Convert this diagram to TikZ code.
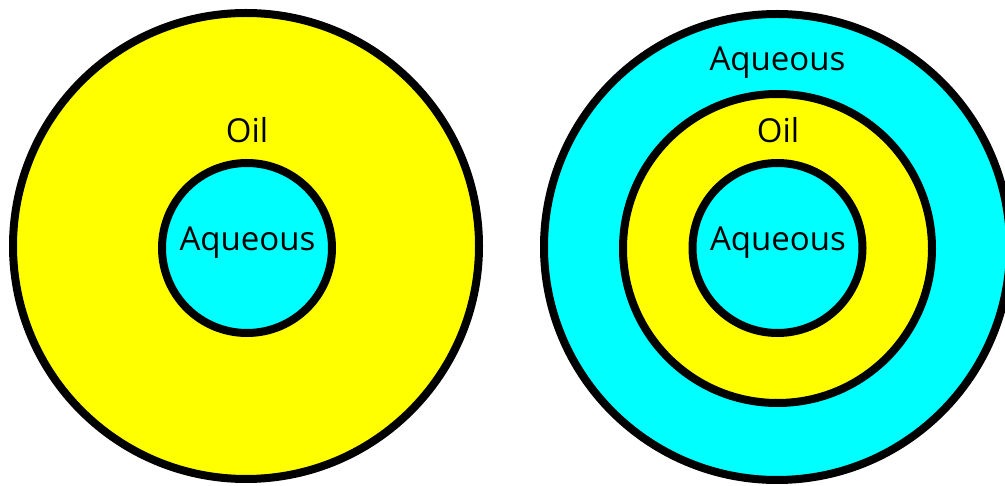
\documentclass[tikz,border=0pt]{standalone}
\usepackage{fontspec}
\setmainfont{Open Sans}
\usepackage{xcolor}
\usepackage{tikz}
\usetikzlibrary{positioning}
\definecolor{oilyellow}{RGB}{255,255,0}
\definecolor{aqcyan}{RGB}{0,255,255}
\tikzset{
  drop/.style={circle, draw=black, line width=8pt, inner sep=0pt},
  oil/.style={drop, fill=oilyellow},
  aq/.style={drop, fill=aqcyan},
  lbl/.style={anchor=base, inner sep=0pt, font=\fontsize{33}{37}\selectfont}
}
\begin{document}
\begin{tikzpicture}[x=1pt, y=-1pt]
\clip (0,0) rectangle (1005,486);
\useasboundingbox (0,0) rectangle (1005,486);
% water-in-oil
\node[oil, minimum size=466pt] (WOout) at (246,246) {};
\node[aq, minimum size=170pt] (WOin) at (247,248) {};
\node[lbl] (WOoil) at (247,143) {Oil};
\node[lbl] (WOaq) at (247.5,251) {Aqueous};
% water-in-oil-in-water
\node[aq, minimum size=466pt] (WOWout) at (777,247) {};
\node[oil, minimum size=309pt] (WOWmid) at (777.5,248.5) {};
\node[aq, minimum size=170pt] (WOWin) at (777.5,248) {};
\node[lbl] (WOWaqout) at (777.5,71) {Aqueous};
\node[lbl] (WOWoil) at (778,143) {Oil};
\node[lbl] (WOWaqin) at (778,251) {Aqueous};
\end{tikzpicture}
\end{document}
